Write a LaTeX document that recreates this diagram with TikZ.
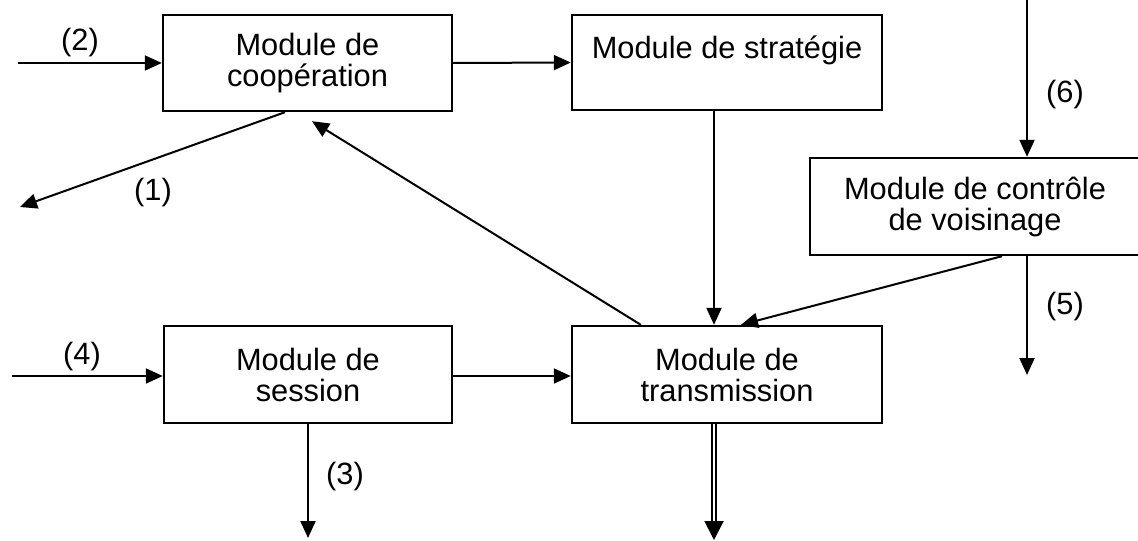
\documentclass[tikz,border=0pt]{standalone}
\usepackage{fontspec}
\setmainfont{Liberation Sans}
\usetikzlibrary{arrows.meta,calc}
\begin{document}
\begin{tikzpicture}[x=0.5pt,y=-0.5pt,
  box/.style={draw,line width=1.2pt,inner sep=0pt,align=center,
    font=\fontsize{15.4}{15.5}\selectfont},
  arr/.style={line width=1pt,-{Triangle[length=8.5pt,width=7.5pt]}},
  lbl/.style={font=\fontsize{15.4}{15}\selectfont,inner sep=0pt}]
\useasboundingbox (0,0) rectangle (1138,540);
\clip (0,0) rectangle (1138,540);

% modules
\node[box,minimum width=144.5pt,minimum height=48pt] (coop) at (307.5,63) {Module de\\coopération};
\node[box,minimum width=155pt,minimum height=47.5pt] (strat) at (727,62.5) {Module de stratégie\\~};
\node[box,minimum width=165pt,minimum height=48.5pt] (vois) at (975,206.5) {Module de contrôle\\de voisinage};
\node[box,minimum width=144pt,minimum height=48.5pt] (sess) at (308,374.5) {Module de\\session};
\node[box,minimum width=155pt,minimum height=48.5pt] (trans) at (727,374.5) {Module de\\transmission};

% free ends of the external flows
\coordinate (in2) at (18,63);
\coordinate (out1) at (20,207);
\coordinate (in4) at (12,376);
\coordinate (out3) at (308,538);
\coordinate (in6) at (1027,0);
\coordinate (out5) at (1027,375);
\coordinate (out7) at (714,540);

% connectors
\draw[arr] (in2) -- (coop.west);
\draw[arr] ([xshift=-11.25pt]coop.south) -- (out1);
\draw[arr] (coop.east) -- (strat.west);
\draw[arr] ([xshift=-6.5pt]strat.south) -- ([xshift=-6.5pt]trans.north);
\draw[arr] ([xshift=35pt]trans.north west) -- ([xshift=2.25pt,yshift=-4.5pt]coop.south);
\draw[arr] ([xshift=13.5pt]vois.south) -- ([xshift=7pt]trans.north);
\draw[arr] ([yshift=-0.75pt]sess.east) -- ([yshift=-0.75pt]trans.west);
\draw[arr] (in4) -- (sess.west |- in4);
\draw[arr] (sess.south) -- (out3);
\draw[arr] (in6) -- (vois.north -| in6);
\draw[arr] (vois.south -| out5) -- (out5);

% double output of the transmission module
\draw[line width=1pt,double distance=1pt,shorten >=7pt] (trans.south -| out7) -- (out7);
\draw[line width=1pt,-{Triangle[length=9.5pt,width=9.5pt]}] ($(out7)+(0,-18)$) -- (out7);

% flow labels
\node[lbl] (l2) at (80,43) {(2)};
\node[lbl] (l1) at (153,193) {(1)};
\node[lbl] (l4) at (82,357) {(4)};
\node[lbl] (l3) at (345,477) {(3)};
\node[lbl] (l6) at (1065,95) {(6)};
\node[lbl] (l5) at (1065,307) {(5)};
\end{tikzpicture}
\end{document}
